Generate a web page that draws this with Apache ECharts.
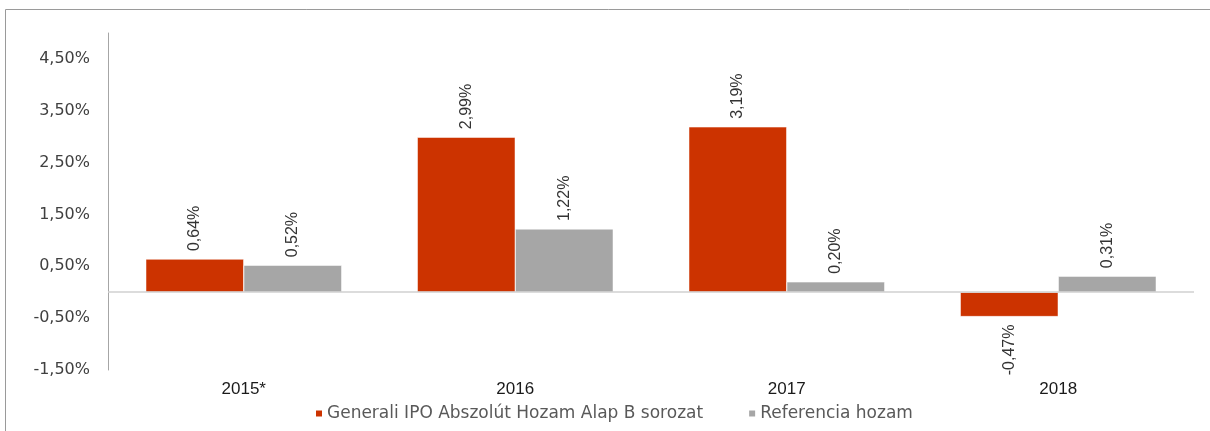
<!DOCTYPE html>
<html>
<head>
<meta charset="utf-8">
<script src="https://cdn.jsdelivr.net/npm/echarts@6/dist/echarts.min.js"></script>
<style>
  html, body { margin: 0; padding: 0; background: #fff; }
  #chart { width: 1210px; height: 431px; }
</style>
</head>
<body>
<div id="chart"></div>
<script>
let categories = ['2015*', '2016', '2017', '2018'];
let fundName = 'Generali IPO Abszolút Hozam Alap B sorozat';
let refName = 'Referencia hozam';
let fundValues = [0.64, 2.99, 3.19, -0.47];
let refValues = [0.52, 1.22, 0.20, 0.31];
let tickValues = [-1.5, -0.5, 0.5, 1.5, 2.5, 3.5, 4.5];

const narrow = '"Liberation Sans Narrow", "Liberation Sans", Arial, sans-serif';
const wide = '"DejaVu Sans", sans-serif';

function pct(v) {
  return v.toFixed(2).replace('.', ',') + '%';
}

let barLabel = {
  show: true,
  position: 'top',
  distance: 8,
  rotate: 90,
  align: 'left',
  verticalAlign: 'middle',
  fontFamily: narrow,
  fontSize: 16,
  color: '#333',
  formatter: function (p) { return pct(p.value); }
};

function withNegLabels(arr) {
  return arr.map(function (v) {
    if (v < 0) {
      return { value: v, label: { position: 'bottom', align: 'right' } };
    }
    return v;
  });
}

let myChart = echarts.init(document.getElementById('chart'));

myChart.setOption({
  animation: false,
  color: ['#CC3300', '#A6A6A6'],
  graphic: [
    {
      type: 'rect',
      shape: { x: 5.5, y: 9.5, width: 1300, height: 500 },
      style: { fill: 'none', stroke: '#9a9a9a', lineWidth: 1 },
      silent: true
    }
  ],
  legend: {
    left: 309,
    top: 400,
    itemWidth: 8,
    itemHeight: 8,
    itemGap: 44,
    icon: 'rect',
    textStyle: {
      fontSize: 17,
      fontFamily: wide,
      color: '#595959',
      padding: [0, 0, 0, -1]
    },
    data: [fundName, refName]
  },
  grid: {
    left: 108,
    right: 16,
    top: 33,
    bottom: 61
  },
  xAxis: [
    {
      type: 'category',
      data: categories,
      axisLine: { show: false },
      axisTick: { show: false },
      axisLabel: {
        margin: 11,
        fontSize: 17,
        fontFamily: narrow,
        color: '#1a1a1a'
      }
    }
  ],
  yAxis: [
    {
      type: 'value',
      min: -1.5,
      max: 5,
      interval: 0.5,
      axisLine: { show: true, lineStyle: { color: '#a6a6a6', width: 1 } },
      axisTick: { show: false },
      splitLine: { show: false },
      axisLabel: {
        margin: 18,
        fontSize: 16,
        fontFamily: wide,
        color: '#404040',
        showMaxLabel: false,
        formatter: function (v) {
          for (let i = 0; i < tickValues.length; i++) {
            if (Math.abs(tickValues[i] - v) < 1e-9) return pct(v);
          }
          return '';
        }
      }
    }
  ],
  series: [
    {
      name: fundName,
      type: 'bar',
      barWidth: 98,
      barGap: '0%',
      itemStyle: { borderColor: '#fff', borderWidth: 0.5 },
      label: barLabel,
      data: withNegLabels(fundValues),
      markLine: {
        silent: true,
        symbol: 'none',
        label: { show: false },
        lineStyle: { color: '#d0d0d0', type: 'solid', width: 1.5 },
        data: [{ yAxis: 0 }]
      }
    },
    {
      name: refName,
      type: 'bar',
      barWidth: 98,
      barGap: '0%',
      itemStyle: { borderColor: '#fff', borderWidth: 0.5 },
      label: barLabel,
      data: withNegLabels(refValues)
    }
  ]
});
</script>
</body>
</html>
